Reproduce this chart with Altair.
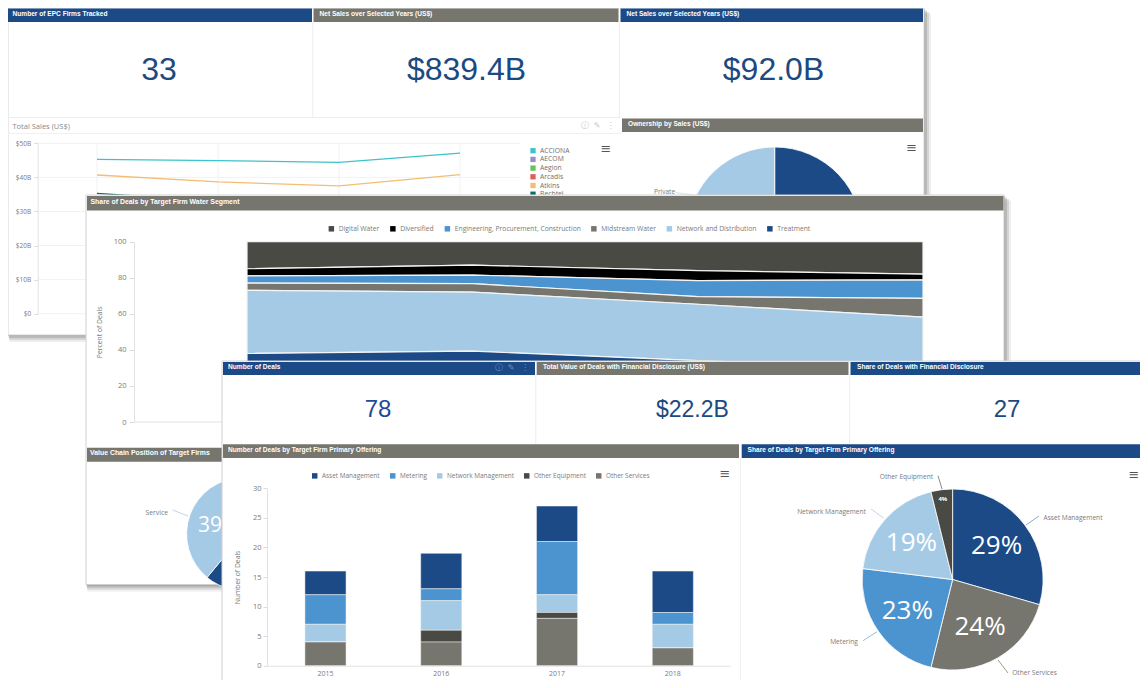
import altair as alt
import pandas as pd

# ---------- data ----------
sales_years = [2015, 2016, 2017, 2018]
sales_firms = ["ACCIONA", "AECOM", "Aegion", "Arcadis", "Atkins", "Bechtel"]
sales_colors = ["#3CC3CC", "#9490C8", "#66C45C", "#DE5F58", "#F2BE74", "#0F6A68"]
sales_acciona = [45.3, 44.9, 44.4, 47.1]
sales_atkins = [40.7, 38.7, 37.5, 40.8]
sales_bechtel = [35.3, 33.0, 32.0, 33.0]
sales_ticks = [0, 10, 20, 30, 40, 50]

own_names = ["Public", "Private"]
own_values = [52, 48]

seg_years = [2015, 2016, 2017, 2018]
seg_names = ["Digital Water", "Diversified", "Engineering, Procurement, Construction",
             "Midstream Water", "Network and Distribution", "Treatment"]
seg_digital = [15, 13, 16, 18]
seg_diversified = [4, 5.5, 5.6, 3.2]
seg_epc = [4, 4.8, 8.9, 10.2]
seg_midstream = [4, 4.7, 4.2, 10.4]
seg_network = [35, 32.7, 31.3, 28.2]
seg_treatment = [38, 39.3, 34, 30]

chain_names = ["Product", "Service"]
chain_values = [61, 39]

deal_years = ["2015", "2016", "2017", "2018"]
off_names = ["Asset Management", "Metering", "Network Management", "Other Equipment", "Other Services"]
off_asset = [4, 6, 6, 7]
off_metering = [5, 2, 9, 2]
off_network = [3, 5, 3, 4]
off_equipment = [0, 2, 1, 0]
off_services = [4, 4, 8, 3]

pie_names = ["Asset Management", "Other Services", "Metering", "Network Management", "Other Equipment"]
pie_counts = [23, 19, 18, 15, 3]
pie_big = ["29%", "24%", "23%", "19%", ""]
pie_small = ["", "", "", "", "4%"]

# ---------- style ----------
BLUE = "#1B4A87"
MID = "#4C94CF"
LIGHT = "#A5CAE6"
DARK = "#4A4A45"
GRAY = "#76756E"
BLACK = "#000000"
KPI = "#1C4A80"
TXT = "#7A7A7A"
SANS = "Open Sans"
HEAD = "Liberation Sans"
W, H = 1132, 672
one = alt.Data(values=[{"k": 1}])


def X(v):
    return v - 8


def Y(v):
    return v - 8


def rect(x0, x1, y0, y1, color, opacity=1.0, stroke=None):
    kw = {"stroke": stroke, "strokeWidth": 1} if stroke else {}
    return alt.Chart(one).mark_rect(color=color, opacity=opacity, **kw).encode(
        x=alt.value(X(x0)), x2=alt.value(X(x1)), y=alt.value(Y(y0)), y2=alt.value(Y(y1)))


def line(x0, y0, x1, y1, color, w=1.0):
    return alt.Chart(one).mark_rule(color=color, strokeWidth=w).encode(
        x=alt.value(X(x0)), x2=alt.value(X(x1)), y=alt.value(Y(y0)), y2=alt.value(Y(y1)))


def label(text, x, y, size, color=TXT, font=SANS, align="left", bold=False, angle=0):
    return alt.Chart(pd.DataFrame({"t": [text]})).mark_text(
        font=font, fontSize=size, color=color, align=align, baseline="middle",
        fontWeight="bold" if bold else "normal", angle=angle).encode(
        x=alt.value(X(x)), y=alt.value(Y(y)), text="t:N")


def header(text, x0, x1, y0, y1, color, tx, size=6.6):
    return [rect(x0, x1, y0, y1, color),
            label(text, tx, (y0 + y1) / 2 - 1.5, size, "#FFFFFF", HEAD, bold=True)]


def shadow(x0, x1, y0, y1):
    out = []
    for i, op in [(7, 0.10), (5, 0.16), (3, 0.22), (1, 0.30)]:
        out.append(rect(x0 + i * 0.2, x1 + i, y0 + i * 0.8, y1 + i, "#555555", op))
    return out


def burger(x, y):
    return label("≡", x, y, 13, "#555555", "DejaVu Sans", "center")


def pie(names, values, colors, cx, cy, r):
    df = pd.DataFrame({"n": names, "v": values, "r": list(range(len(names)))})
    return alt.Chart(df).mark_arc(radius=r, stroke="#FFFFFF", strokeWidth=0.8).encode(
        x=alt.value(X(cx)), y=alt.value(Y(cy)),
        theta=alt.Theta("v:Q", stack=True),
        order=alt.Order("r:Q"),
        color=alt.Color("n:N", scale=alt.Scale(domain=names, range=colors), legend=None))


L = []
# ================= back panel =================
L += shadow(8, 924, 8, 335)
L.append(rect(8, 924, 8, 335, "#FFFFFF", stroke="#D5D5D5"))
L += header("Number of EPC Firms Tracked", 8, 312, 8.5, 22, BLUE, 12.5)
L += header("Net Sales over Selected Years (US$)", 313.5, 618.5, 8.5, 22, GRAY, 319.5)
L += header("Net Sales over Selected Years (US$)", 620.5, 923, 8.5, 22, BLUE, 626.5)
L.append(line(312.8, 22, 312.8, 117, "#EDEDED"))
L.append(line(619.6, 22, 619.6, 117, "#EDEDED"))
L.append(line(8, 117.5, 621, 117.5, "#EDEDED"))
L.append(label("33", 159, 70, 32, KPI, HEAD, "center"))
L.append(label("$839.4B", 466.5, 70, 32, KPI, HEAD, "center"))
L.append(label("$92.0B", 773.5, 70, 32, KPI, HEAD, "center"))
L.append(label("Total Sales (US$)", 12.4, 126.5, 7.5, "#8A8A8A"))
L.append(line(8, 133.5, 621, 133.5, "#F0F0F0"))
for t, x in [("ⓘ", 585), ("✎", 597), ("⋮", 610.5)]:
    L.append(label(t, x, 126, 8, "#C8C8C8", "DejaVu Sans", "center"))

sx = alt.Scale(domain=[2015, 2018], range=[X(97), X(460)], nice=False, zero=False)
sy = alt.Scale(domain=[0, 50], range=[Y(313.7), Y(143.3)], nice=False, zero=False)
grid_h = pd.DataFrame({"v": sales_ticks})
L.append(alt.Chart(grid_h).mark_rule(color="#F2F2F2", strokeWidth=1).encode(
    y=alt.Y("v:Q", scale=sy, axis=None), x=alt.value(X(38)), x2=alt.value(X(520))))
grid_v = pd.DataFrame({"y": sales_years})
L.append(alt.Chart(grid_v).mark_rule(color="#F2F2F2", strokeWidth=1).encode(
    x=alt.X("y:Q", scale=sx, axis=None), y=alt.value(Y(143.3)), y2=alt.value(Y(313.7))))
sdf = pd.DataFrame({
    "year": sales_years * 3,
    "firm": ["ACCIONA"] * 4 + ["Atkins"] * 4 + ["Bechtel"] * 4,
    "val": sales_acciona + sales_atkins + sales_bechtel})
L.append(alt.Chart(sdf).mark_line(strokeWidth=1.3).encode(
    x=alt.X("year:Q", scale=sx, axis=None),
    y=alt.Y("val:Q", scale=sy, axis=alt.Axis(
        orient="left", offset=-X(37.7), values=sales_ticks, title=None, grid=False,
        labelExpr="datum.value == 0 ? '$0' : '$' + datum.value + 'B'",
        labelFont=SANS, labelFontSize=6.5, labelColor=TXT, tickColor="#DDDDDD", tickSize=4,
        domainColor="#E2E2E2", zindex=1, labelPadding=3)),
    color=alt.Color("firm:N", scale=alt.Scale(domain=sales_firms, range=sales_colors), legend=None)))
leg_y = alt.Scale(type="point", domain=sales_firms, range=[Y(150.7), Y(194.2)], padding=0)
ldf = pd.DataFrame({"firm": sales_firms})
L.append(alt.Chart(ldf).mark_square(size=28, opacity=1).encode(
    x=alt.value(X(533)), y=alt.Y("firm:N", scale=leg_y, axis=None),
    color=alt.Color("firm:N", scale=alt.Scale(domain=sales_firms, range=sales_colors), legend=None)))
L.append(alt.Chart(ldf).mark_text(font=SANS, fontSize=6.8, color="#6F6F6F", align="left", baseline="middle").encode(
    x=alt.value(X(540)), y=alt.Y("firm:N", scale=leg_y, axis=None), text="firm:N"))
L.append(burger(606, 149))

L += header("Ownership by Sales (US$)", 622, 923, 118.5, 132, GRAY, 628)
L.append(pie(own_names, own_values, [BLUE, LIGHT], 774.7, 235, 88))
L.append(burger(911.7, 147.5))
L.append(label("Private", 654, 191.7, 6.5, TXT))
L.append(line(675.7, 192.5, 694, 195, "#D5E4F0"))

# ================= middle panel =================
L += shadow(86, 1004, 195, 584.5)
L.append(rect(86, 1004, 195, 584.5, "#FFFFFF", stroke="#D0D0D0"))
L += header("Share of Deals by Target Firm Water Segment", 87, 1003.5, 196, 210.5, GRAY, 90.5, 6.9)

ax = alt.Scale(domain=[2015, 2018], range=[X(247), X(923)], nice=False, zero=False)
ay = alt.Scale(domain=[0, 100], range=[Y(422), Y(241.7)], nice=False, zero=False)
adf = pd.DataFrame({
    "year": seg_years * 6,
    "seg": sum([[n] * 4 for n in seg_names], []),
    "rank": sum([[5 - i] * 4 for i in range(6)], []),
    "val": seg_digital + seg_diversified + seg_epc + seg_midstream + seg_network + seg_treatment})
L.append(alt.Chart(adf).mark_area(stroke="#F4F4F4", strokeWidth=1.2, opacity=1).encode(
    x=alt.X("year:Q", scale=ax, axis=None),
    y=alt.Y("val:Q", scale=ay, stack="zero", axis=alt.Axis(
        orient="left", offset=-X(134), values=[0, 20, 40, 60, 80, 100], title="Percent of Deals",
        titleFont=SANS, titleFontSize=6.8, titleFontWeight="normal", titleColor=TXT, titlePadding=11,
        labelFont=SANS, labelFontSize=7.5, labelColor=TXT, tickColor="#DDDDDD", tickSize=5,
        domainColor="#E2E2E2", grid=False, zindex=1, labelPadding=3)),
    order=alt.Order("rank:Q"),
    color=alt.Color("seg:N", scale=alt.Scale(domain=seg_names, range=[DARK, BLACK, MID, GRAY, LIGHT, BLUE]),
                    legend=alt.Legend(orient="none", legendX=X(328), legendY=Y(225), direction="horizontal",
                                      title=None, symbolType="square", symbolSize=30, symbolStrokeWidth=0,
                                      labelFont=SANS, labelFontSize=6.75, labelColor=TXT, columnPadding=9.5,
                                      labelOffset=4))))
L.append(line(134, 422, 223, 422, "#E2E2E2"))

L += header("Value Chain Position of Target Firms", 87, 223, 447.7, 461.7, GRAY, 90, 6.9)
L.append(pie(chain_names, chain_values, [BLUE, LIGHT], 243, 534, 56.4))
L.append(label("39%", 198, 526, 21, "#FFFFFF"))
L.append(label("Service", 145.5, 512.7, 6.8, TXT))
L.append(line(172.7, 510, 188, 516, "#BFD7EA"))

# ================= front panel =================
L.append(rect(222, 1148, 361, 688, "#FFFFFF", stroke="#D0D0D0"))
L += header("Number of Deals", 223, 535, 362, 375, BLUE, 228)
L += header("Total Value of Deals with Financial Disclosure (US$)", 536.7, 848.5, 362, 375, GRAY, 543)
L += header("Share of Deals with Financial Disclosure", 850.5, 1148, 362, 375, BLUE, 857)
for t, x in [("ⓘ", 498.7), ("✎", 511), ("⋮", 525)]:
    L.append(label(t, x, 367.8, 8, "#6F8DB5", "DejaVu Sans", "center"))
L.append(line(535.8, 375, 535.8, 444, "#EDEDED"))
L.append(line(849.6, 375, 849.6, 444, "#EDEDED"))
L.append(line(740.3, 458, 740.3, 688, "#EDEDED"))
L.append(label("78", 378, 409.5, 24, "#1E4A96", HEAD, "center"))
L.append(label("$22.2B", 692.4, 409.5, 23, KPI, HEAD, "center"))
L.append(label("27", 1007, 409.5, 24, KPI, HEAD, "center"))
L += header("Number of Deals by Target Firm Primary Offering", 223, 739, 444.3, 458, GRAY, 228)
L += header("Share of Deals by Target Firm Primary Offering", 741.7, 1148, 444.3, 458, BLUE, 747.6)

bdf = pd.DataFrame({
    "year": deal_years * 5,
    "off": sum([[n] * 4 for n in off_names], []),
    "rank": sum([[4 - i] * 4 for i in range(5)], []),
    "val": off_asset + off_metering + off_network + off_equipment + off_services})
L.append(alt.Chart(bdf).mark_bar(stroke="#F4F4F4", strokeWidth=0.5, opacity=1).encode(
    x=alt.X("year:O", scale=alt.Scale(domain=deal_years, range=[X(267.6), X(730.7)],
                                      paddingInner=0.645, paddingOuter=0.3225),
            axis=alt.Axis(orient="bottom", offset=-(H - Y(665.7)), title=None, labelAngle=0, ticks=False,
                          domainColor="#E2E2E2", labelFont=SANS, labelFontSize=7, labelColor=TXT,
                          labelPadding=4, grid=False, zindex=1)),
    y=alt.Y("val:Q", scale=alt.Scale(domain=[0, 30], range=[Y(665.7), Y(488.3)], nice=False, zero=False),
            stack="zero",
            axis=alt.Axis(orient="left", offset=-X(267), values=[0, 5, 10, 15, 20, 25, 30],
                          title="Number of Deals", titleFont=SANS, titleFontSize=6.8,
                          titleFontWeight="normal", titleColor=TXT, titlePadding=12,
                          labelFont=SANS, labelFontSize=7.5, labelColor=TXT, tickColor="#DDDDDD", tickSize=4,
                          domainColor="#E2E2E2", grid=False, zindex=1, labelPadding=2)),
    order=alt.Order("rank:Q"),
    color=alt.Color("off:N", scale=alt.Scale(domain=off_names, range=[BLUE, MID, LIGHT, DARK, GRAY]),
                    legend=alt.Legend(orient="none", legendX=X(311.5), legendY=Y(472.5), direction="horizontal",
                                      title=None, symbolType="square", symbolSize=30, symbolStrokeWidth=0,
                                      labelFont=SANS, labelFontSize=6.45, labelColor=TXT, columnPadding=9,
                                      labelOffset=4))))
L.append(burger(725, 474))
L.append(burger(1134, 475))

L.append(pie(pie_names, pie_counts, [BLUE, GRAY, MID, LIGHT, DARK], 952.6, 579.5, 90.5))
pdf = pd.DataFrame({"n": pie_names, "v": pie_counts, "b": pie_big, "s": pie_small, "r": list(range(5))})
L.append(alt.Chart(pdf).mark_text(font=SANS, fontSize=26, color="#FFFFFF", radius=55, x=X(952.6), y=Y(579.5)).encode(
    theta=alt.Theta("v:Q", stack=True), order=alt.Order("r:Q"), text="b:N"))
L.append(alt.Chart(pdf).mark_text(font=SANS, fontSize=6, fontWeight="bold", color="#FFFFFF", radius=81,
                                  x=X(952.6), y=Y(579.5)).encode(
    theta=alt.Theta("v:Q", stack=True), order=alt.Order("r:Q"), text="s:N"))
for t, x, y in [("Other Equipment", 906.4, 477), ("Network Management", 831.5, 511.7),
                ("Asset Management", 1073, 518.3), ("Metering", 844, 642), ("Other Services", 1034.5, 673)]:
    L.append(label(t, x, y, 6.6, TXT, SANS, "center"))
L.append(line(1026, 525, 1039, 516, "#8FA9C9"))
L.append(line(871, 509, 883.6, 518, "#BFD7EA"))
L.append(line(938, 475.7, 942, 489, "#8A8A85"))
L.append(line(863, 640.7, 877, 631.7, "#8FC0E4"))
L.append(line(998, 660, 1008, 673, "#9A9A95"))

chart = alt.layer(*L).resolve_scale(
    x="independent", y="independent", color="independent", theta="independent"
).resolve_axis(x="independent", y="independent").resolve_legend(color="independent").properties(
    width=W, height=H, padding=0, autosize="none"
).configure_view(stroke=None)

chart.save("out.html", embed_options={"renderer": "svg", "actions": False})
